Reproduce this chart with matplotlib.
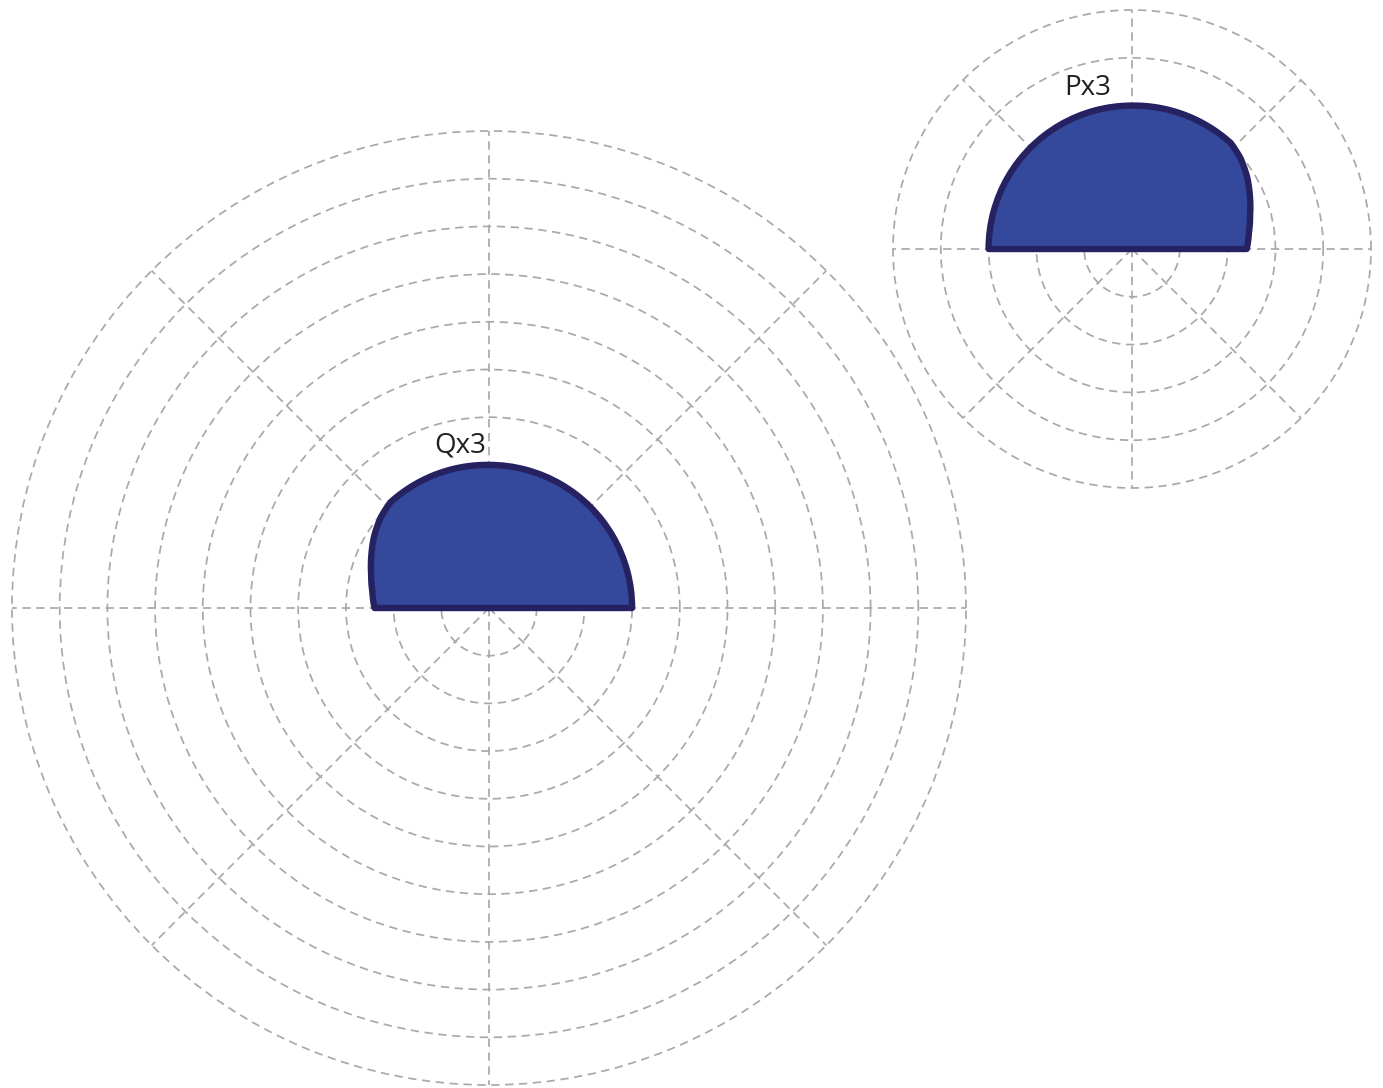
import matplotlib.pyplot as plt
import numpy as np

# Angles (degrees) and radii of the P half-shape
p_angles = [0, 8, 16, 24, 32, 40, 47, 60, 90, 120, 135, 150, 180]
p_radii = [2.40, 2.47, 2.57, 2.70, 2.84, 2.96, 3.03, 3.02, 3.0, 3.0, 3.0, 3.0, 3.0]
# Q is the mirror image of P about the vertical axis
q_angles = [180 - a for a in p_angles[::-1]]
q_radii = p_radii[::-1]

labels = ["Qx3", "Px3"]
r_max = [10, 5]

grid_color = "#a9a9a9"
fill_color = "#34499b"
edge_color = "#262262"

fig = plt.figure(figsize=(13.83, 10.88), dpi=100)

ax_q = fig.add_axes([12 / 1383, 3 / 1088, 954 / 1383, 954 / 1088], projection="polar")
ax_p = fig.add_axes([893 / 1383, 600 / 1088, 478 / 1383, 478 / 1088], projection="polar")


def draw(ax, angles, radii, label, rmax, label_pos):
    theta = np.deg2rad(angles)
    # close the shape through the centre so the bottom is flat
    th = np.concatenate([theta, [np.pi, 0.0]])
    rr = np.concatenate([radii, [0.0, 0.0]])
    poly, = ax.fill(th, rr, facecolor=fill_color, edgecolor=edge_color,
                    linewidth=4.6, joinstyle="round", zorder=3)
    # let the polar transform curve the edges like a line would
    poly.get_path()._interpolation_steps = 60

    ax.set_ylim(0, rmax)
    ax.set_yticks(np.arange(1, rmax + 1))
    ax.set_xticks(np.deg2rad(np.arange(0, 360, 45)))
    ax.set_yticklabels([])
    ax.set_xticklabels([])
    ax.grid(True, color=grid_color, linestyle=(0, (4.8, 3.2)), linewidth=1.25)
    for gl in ax.yaxis.get_gridlines() + ax.xaxis.get_gridlines():
        gl.set_clip_on(False)
    ax.spines["polar"].set_visible(False)
    ax.set_facecolor("none")
    ax.tick_params(length=0)

    ax.text(np.deg2rad(label_pos[0]), label_pos[1], label, ha="center", va="center",
            fontsize=20, family="Open Sans", color="#231f20", zorder=4)


draw(ax_q, q_angles, q_radii, labels[0], r_max[0], (100, 3.45))
draw(ax_p, p_angles, p_radii, labels[1], r_max[1], (105.4, 3.5))

fig.savefig("out.png", dpi=100)
